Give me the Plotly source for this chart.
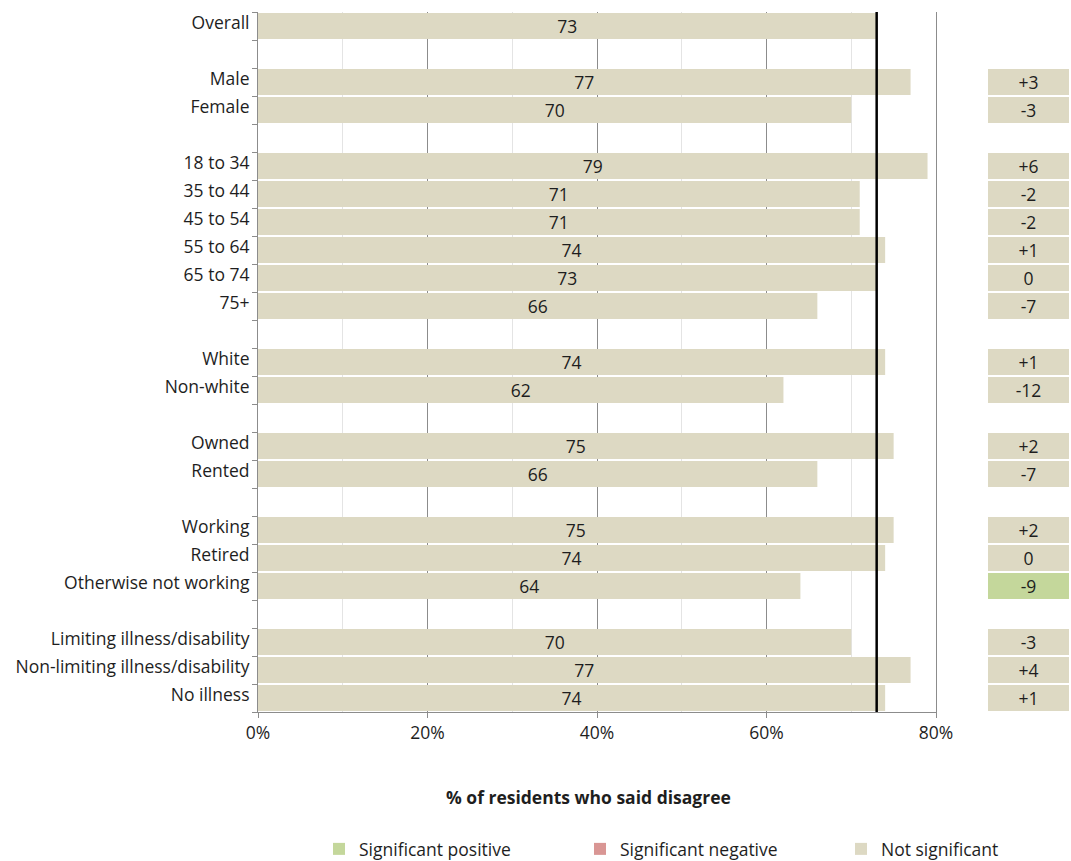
import plotly.graph_objects as go

# ---- data -------------------------------------------------------------
categories = [
    "Overall",
    "Male", "Female",
    "18 to 34", "35 to 44", "45 to 54", "55 to 64", "65 to 74", "75+",
    "White", "Non-white",
    "Owned", "Rented",
    "Working", "Retired", "Otherwise not working",
    "Limiting illness/disability", "Non-limiting illness/disability", "No illness",
]
group_sizes = [1, 2, 6, 2, 2, 3, 3]
pct_disagree = [73, 77, 70, 79, 71, 71, 74, 73, 66, 74, 62, 75, 66, 75, 74, 64, 70, 77, 74]
diff_vs_overall = [None, 3, -3, 6, -2, -2, 1, 0, -7, 1, -12, 2, -7, 2, 0, -9, -3, 4, 1]
significance = ["", "ns", "ns", "ns", "ns", "ns", "ns", "ns", "ns", "ns", "ns",
                "ns", "ns", "ns", "ns", "pos", "ns", "ns", "ns"]
x_ticks = [0, 20, 40, 60, 80]

# ---- styling ----------------------------------------------------------
TAN = "#ddd9c3"
GREEN = "#c4d79b"
RED = "#d99694"
TEXT = "#1e1e1e"
FONT = "Open Sans"
FS = 17.5
W, H = 1071, 861
PLOT_TOP, PLOT_BOTTOM = 12, 712
PLOT_H = PLOT_BOTTOM - PLOT_TOP


def paper_y(px):
    return (PLOT_BOTTOM - px) / PLOT_H


# row positions: one blank row between groups
rows = []
r = 0
for n in group_sizes:
    for _ in range(n):
        rows.append(r)
        r += 1
    r += 1  # spacer row
n_rows = rows[-1] + 1

fig = go.Figure()

fig.add_trace(go.Bar(
    x=pct_disagree, y=rows, orientation="h", width=0.92,
    marker=dict(color=TAN, line=dict(width=0)),
    text=[str(v) for v in pct_disagree], textposition="inside",
    insidetextanchor="middle", textangle=0, constraintext="none",
    textfont=dict(family=FONT, size=FS, color=TEXT),
    showlegend=False, hoverinfo="skip", xaxis="x", yaxis="y",
))

# difference-from-overall panel, split by significance; each gets its own legend
sig_styles = [("pos", "Significant positive", GREEN, "legend", 319),
              ("neg", "Significant negative", RED, "legend2", 580),
              ("ns", "Not significant", TAN, "legend3", 841)]
for key, name, color, leg, _ in sig_styles:
    ys = [rows[i] for i, s in enumerate(significance) if s == key]
    ds = [diff_vs_overall[i] for i, s in enumerate(significance) if s == key]
    labels = [("+%d" % d if d > 0 else str(d)) for d in ds]
    fig.add_trace(go.Bar(
        x=[1] * len(ys) if ys else [None], y=ys if ys else [None],
        orientation="h", width=0.92,
        marker=dict(color=color, line=dict(width=0)),
        text=labels if ys else None, textposition="inside",
        insidetextanchor="middle", textangle=0, constraintext="none",
        textfont=dict(family=FONT, size=FS, color=TEXT),
        name=name, showlegend=True, legend=leg, hoverinfo="skip",
        xaxis="x2", yaxis="y2",
    ))

overall_value = pct_disagree[0]
fig.add_shape(type="line", xref="x", yref="paper",
              x0=overall_value, x1=overall_value, y0=0, y1=1,
              line=dict(color="black", width=2.5), layer="above")

legend_common = dict(orientation="h", xanchor="left", y=paper_y(849),
                     yanchor="middle", bgcolor="rgba(0,0,0,0)",
                     font=dict(family=FONT, size=FS, color=TEXT),
                     itemclick=False, itemdoubleclick=False)

fig.update_layout(
    width=W, height=H,
    margin=dict(l=0, r=0, t=PLOT_TOP, b=H - PLOT_BOTTOM, autoexpand=False),
    paper_bgcolor="white", plot_bgcolor="white",
    font=dict(family=FONT, size=FS, color=TEXT),
    barmode="overlay",
    uniformtext=dict(minsize=FS, mode="show"),
    xaxis=dict(
        domain=[258 / W, 936 / W], range=[0, 80], tickvals=x_ticks,
        ticktext=["%d%%" % v for v in x_ticks],
        showgrid=True, gridcolor="#8c8c8c", gridwidth=1,
        minor=dict(dtick=10, showgrid=True, gridcolor="#e4e4e4", gridwidth=1),
        showline=True, linecolor="#8c8c8c", linewidth=1,
        ticks="outside", ticklen=5, tickcolor="#8c8c8c",
        zeroline=False, anchor="y", fixedrange=True,
        tickfont=dict(family=FONT, size=FS, color=TEXT),
    ),
    yaxis=dict(
        domain=[0, 1], range=[n_rows - 0.5, -0.5], anchor="x",
        # category labels sit slightly above the bar centre
        tickvals=[p - 0.1 for p in rows], ticktext=categories, ticks="",
        showgrid=False, zeroline=False,
        showline=True, linecolor="#8c8c8c", linewidth=1, mirror=True,
        minor=dict(tick0=0.5, dtick=1, ticks="outside", ticklen=5,
                   tickcolor="#8c8c8c", showgrid=False),
        ticklabelstandoff=4,
        tickfont=dict(family=FONT, size=FS, color=TEXT),
    ),
    xaxis2=dict(domain=[988 / W, 1069 / W], range=[0, 1], visible=False,
                anchor="y2", fixedrange=True),
    yaxis2=dict(domain=[0, 1], range=[n_rows - 0.5, -0.5], visible=False,
                anchor="x2", matches="y"),
    legend=dict(x=sig_styles[0][4] / W, **legend_common),
    legend2=dict(x=sig_styles[1][4] / W, **legend_common),
    legend3=dict(x=sig_styles[2][4] / W, **legend_common),
    annotations=[dict(
        text="<b>% of residents who said disagree</b>", xref="paper", yref="paper",
        x=588 / W, y=paper_y(797), xanchor="center", yanchor="middle",
        showarrow=False, font=dict(family=FONT, size=FS, color=TEXT),
    )],
)

fig.write_html("out.html")
